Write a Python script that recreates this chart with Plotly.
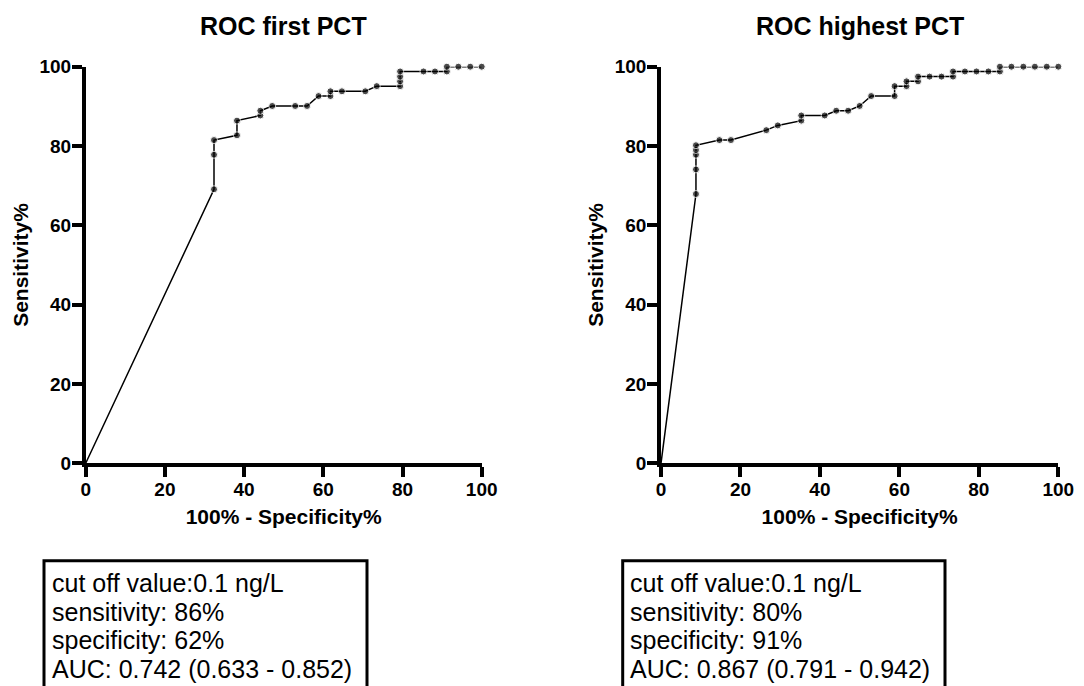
import plotly.graph_objects as go

# ---- data ----
left_fpr = [0, 32.4, 32.4, 32.4, 38.2, 38.2, 44.1, 44.1, 47.1, 52.9, 55.9, 58.8, 61.8, 61.8,
            64.7, 70.6, 73.5, 79.4, 79.4, 79.4, 79.4, 85.3, 88.2, 91.2, 91.2, 94.1, 97.1, 100]
left_sens = [0, 69.1, 77.8, 81.5, 82.7, 86.4, 87.7, 88.9, 90.1, 90.1, 90.1, 92.6, 92.6, 93.8,
             93.8, 93.8, 95.1, 95.1, 96.3, 97.5, 98.8, 98.8, 98.8, 98.8, 100, 100, 100, 100]

right_fpr = [0, 8.8, 8.8, 8.8, 8.8, 8.8, 14.7, 17.6, 26.5, 29.4, 35.3, 35.3, 41.2, 44.1, 47.1,
             50.0, 52.9, 58.8, 58.8, 61.8, 61.8, 64.7, 64.7, 67.6, 70.6, 73.5, 73.5, 76.5, 79.4,
             82.4, 85.3, 85.3, 88.2, 91.2, 94.1, 97.1, 100]
right_sens = [0, 67.9, 74.1, 77.8, 79.0, 80.2, 81.5, 81.5, 84.0, 85.2, 86.4, 87.7, 87.7, 88.9, 88.9,
              90.1, 92.6, 92.6, 95.1, 95.1, 96.3, 96.3, 97.5, 97.5, 97.5, 97.5, 98.8, 98.8, 98.8,
              98.8, 98.8, 100, 100, 100, 100, 100, 100]

titles = ["ROC first PCT", "ROC highest PCT"]
x_title = "100% - Specificity%"
y_title = "Sensitivity%"
tick_vals = [0, 20, 40, 60, 80, 100]

left_box = ["cut off value:0.1 ng/L", "sensitivity: 86%", "specificity: 62%",
            "AUC: 0.742 (0.633 - 0.852)"]
right_box = ["cut off value:0.1 ng/L", "sensitivity: 80%", "specificity: 91%",
             "AUC: 0.867 (0.791 - 0.942)"]

W, H = 1084, 686
OFF = 8  # page body margin offset of the rendered figure
FONT = "Arial, Liberation Sans, Helvetica, sans-serif"


def fx(px):
    return (px - OFF) / W


def fy(py):
    return 1 - (py - OFF) / H


fig = go.Figure()

for i, (xs, ys) in enumerate([(left_fpr, left_sens), (right_fpr, right_sens)]):
    sizes = [0] + [7] * (len(xs) - 1)
    fig.add_trace(go.Scatter(
        x=xs, y=ys, mode="lines+markers",
        line=dict(color="black", width=1.5),
        marker=dict(color="black", size=sizes),
        cliponaxis=False, showlegend=False,
        xaxis="x" if i == 0 else "x2", yaxis="y" if i == 0 else "y2",
    ))

ydom = [fy(463.3), fy(66.7)]
xdoms = [[fx(85.7), fx(481.7)], [fx(661), fx(1058.3)]]

axis_common = dict(
    range=[0, 100], tickvals=tick_vals, showgrid=False, zeroline=False,
    showline=True, linecolor="black", linewidth=3.5, automargin=False,
    ticks="outside", ticklen=10, tickwidth=3.5, tickcolor="black",
    tickfont=dict(family=FONT, size=19, color="black", weight="bold"),
)

layout = dict(
    template="none",
    width=W, height=H, margin=dict(l=0, r=0, t=0, b=0, pad=0, autoexpand=False),
    paper_bgcolor="white", plot_bgcolor="white",
    font=dict(family=FONT, color="black"),
)
for i in range(2):
    sx = "" if i == 0 else "2"
    layout["xaxis" + sx] = dict(
        axis_common, domain=xdoms[i], anchor="y" + sx, ticklabelstandoff=-4,
        title=dict(text=x_title, font=dict(family=FONT, size=21, color="black", weight="bold"), standoff=11),
    )
    layout["yaxis" + sx] = dict(
        axis_common, domain=ydom, anchor="x" + sx, ticklabelstandoff=-3,
        title=dict(text=y_title, font=dict(family=FONT, size=21, color="black", weight="bold"), standoff=6),
    )
fig.update_layout(**layout)

# subplot titles
for i, t in enumerate(titles):
    fig.add_annotation(
        text=t, xref="paper", yref="paper",
        x=(xdoms[i][0] + xdoms[i][1]) / 2, y=fy(26),
        xanchor="center", yanchor="middle", showarrow=False,
        font=dict(family=FONT, size=25, color="black", weight="bold"),
    )

# info boxes
box_x = [(fx(44), fx(367)), (fx(622.7), fx(945))]
text_x = [fx(50), fx(628)]
line_y = [583, 611.7, 640, 669]
for i, lines in enumerate([left_box, right_box]):
    fig.add_shape(type="rect", xref="paper", yref="paper",
                  x0=box_x[i][0], x1=box_x[i][1], y0=-0.05, y1=fy(560.7),
                  line=dict(color="black", width=3), fillcolor="rgba(0,0,0,0)")
    for j, txt in enumerate(lines):
        fig.add_annotation(
            text=txt, xref="paper", yref="paper", x=text_x[i], y=fy(line_y[j]),
            xanchor="left", yanchor="middle", showarrow=False,
            font=dict(family=FONT, size=25, color="black"),
        )

fig.write_html("out.html")
